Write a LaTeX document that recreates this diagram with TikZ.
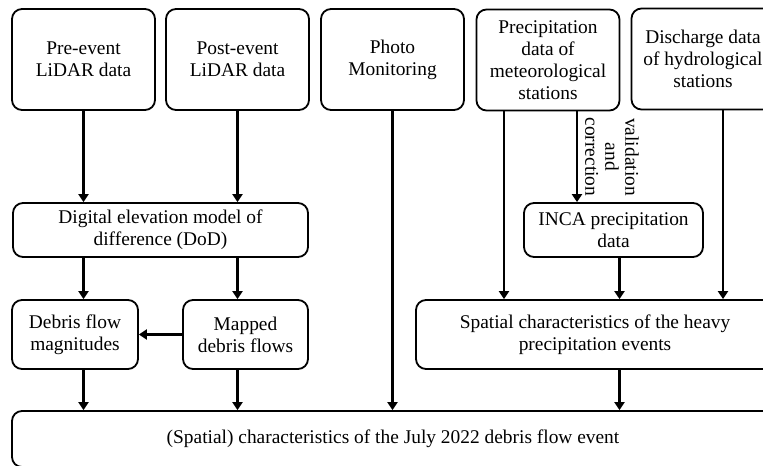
\documentclass[tikz,border=0pt]{standalone}
\usepackage{fontspec}
\setmainfont{Liberation Serif}
\usetikzlibrary{arrows.meta}

\tikzset{
  box/.style={draw, line width=0.9pt, rounded corners=5pt, align=center, inner sep=0pt,
    font=\fontsize{9.7}{10.9}\selectfont},
  topbox/.style={box, minimum width=71.5pt, minimum height=50.5pt},
  arr/.style={line width=1.4pt, -{Triangle[length=4pt,width=5pt]}}
}

\begin{document}
\begin{tikzpicture}[x=0.5pt,y=-0.5pt]
            \clip (0,0) rectangle (763,465);

            % sources
            \node[topbox] (pre) at (83.5,59.5) {Pre-event\\LiDAR data};
            \node[topbox] (post) at (237.5,59.5) {Post-event\\LiDAR data};
            \node[topbox] (photo) at (392.5,59.5) {Photo\\Monitoring};
            \node[topbox] (precip) at (548,60) {Precipitation\\data of\\meteorological\\stations};
            \node[topbox] (discharge) at (703,59) {Discharge data\\of hydrological\\stations};

            % processing
            \node[box, minimum width=147.5pt, minimum height=27pt] (dod) at (160.5,230)
                {Digital elevation model of\\difference (DoD)};
            \node[box, minimum width=89.5pt, minimum height=27pt] (inca) at (613.5,230)
                {INCA precipitation\\data};
            \node[box, minimum width=63pt, minimum height=34.5pt] (mag) at (75,334.5)
                {Debris flow\\magnitudes};
            \node[box, minimum width=62.5pt, minimum height=34.5pt] (mapped) at (245.5,334.5)
                {Mapped\\debris flows};
            \node[box, minimum width=179pt, minimum height=34.5pt] (spatial) at (595,334.5)
                {Spatial characteristics of the heavy\\precipitation events};
            \node[box, minimum width=381pt, minimum height=28pt] (event) at (393,439)
                {(Spatial) characteristics of the July 2022 debris flow event};

            \node[rotate=-90, align=center, font=\fontsize{9.7}{10}\selectfont] (valid) at (612,157)
                {validation\\and\\correction};

            % LiDAR branch
            \draw[arr] (pre) -- (pre |- dod.north);
            \draw[arr] (post) -- (post |- dod.north);
            \draw[arr] (pre |- dod.south) -- (pre |- mag.north);
            \draw[arr] (post |- dod.south) -- (post |- mapped.north);
            \draw[arr] (mapped) -- (mag);
            \draw[arr] (pre |- mag.south) -- (pre |- event.north);
            \draw[arr] (post |- mapped.south) -- (post |- event.north);

            % photo
            \draw[arr] (photo) -- (photo |- event.north);

            % precipitation branch
            \draw[arr] ([xshift=-22pt]precip.south) -- ([xshift=-22pt]precip.south |- spatial.north);
            \draw[arr] ([xshift=14.5pt]precip.south) -- ([xshift=14.5pt]precip.south |- inca.north);
            \draw[arr] ([xshift=3pt]inca.south) -- ([xshift=3pt]inca.south |- spatial.north);
            \draw[arr] ([xshift=10pt]discharge.south) -- ([xshift=10pt]discharge.south |- spatial.north);
            \draw[arr] ([xshift=3pt]inca.south |- spatial.south) -- ([xshift=3pt]inca.south |- event.north);
\end{tikzpicture}
\end{document}
